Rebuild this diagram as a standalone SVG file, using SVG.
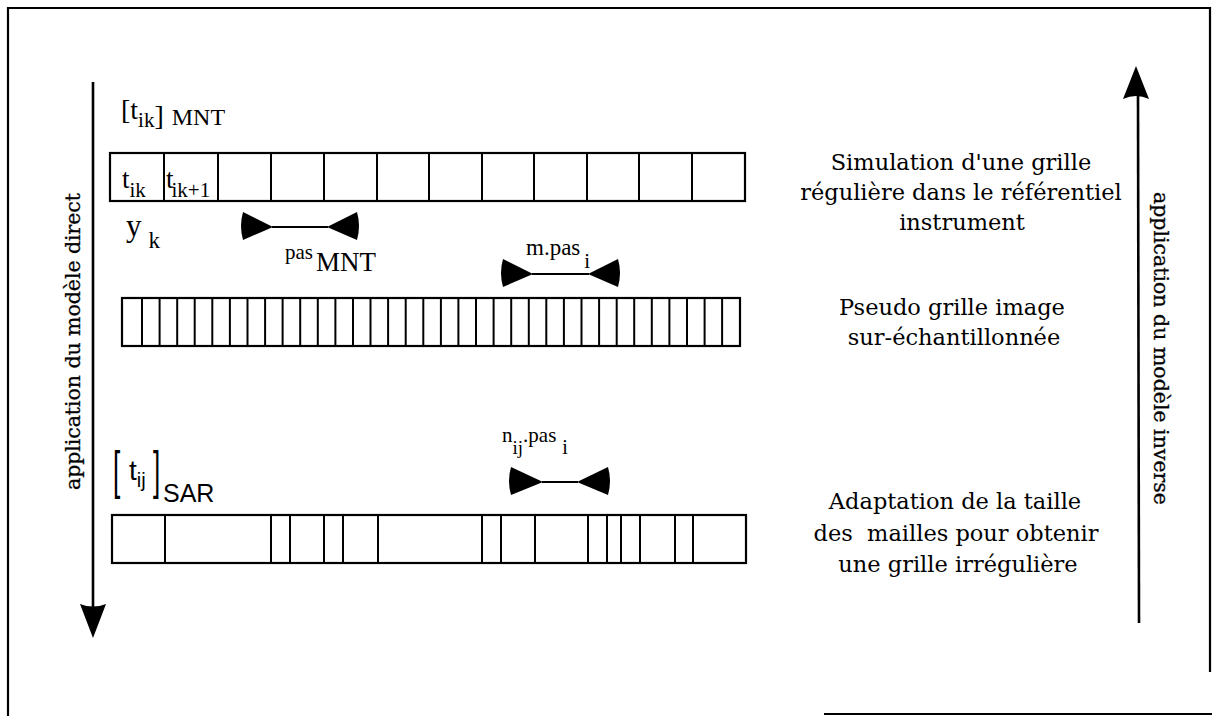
<svg xmlns="http://www.w3.org/2000/svg" width="1214" height="716" viewBox="0 0 1214 716">
  <style>
    .serif { font-family: "Liberation Serif", "DejaVu Serif", serif; fill: #000; }
    .label { font-family: "DejaVu Serif", "Liberation Serif", serif; font-size: 22.5px; fill: #000; }
    .sans { font-family: "Liberation Sans", Arial, sans-serif; fill: #000; }
    .grid { fill: #fff; stroke: #000; stroke-width: 2.2; }
    .div { stroke: #000; stroke-width: 2; }
    .frame { fill: none; stroke: #000; stroke-width: 2.2; }
    .axis { stroke: #000; stroke-width: 2.6; fill: none; }
    .head { fill: #000; stroke: none; }
    .rot { font-family: "DejaVu Serif", "Liberation Serif", serif; font-size: 20.5px; fill: #000; stroke: #000; stroke-width: 0.3; }
  </style>

  <rect width="1214" height="716" fill="#fff"/>

  <!-- page frame -->
  <g id="frame">
    <path class="frame" d="M 8 716 L 8 8 L 1210 8 L 1210 672"/>
    <line class="frame" x1="824" y1="714" x2="1212" y2="714"/>
  </g>

  <!-- direct / inverse model axes -->
  <g id="connectors">
    <line class="axis" x1="93" y1="82" x2="93" y2="610"/>
    <path class="head" d="M 80 604 Q 93 609 106 604 L 93 638 Z"/>
    <line class="axis" x1="1138" y1="96" x2="1139" y2="623"/>
    <path class="head" d="M 1123 99 Q 1136 93 1149 99 L 1136 66 Z"/>
    <text class="rot" transform="translate(80,490) rotate(-90)" textLength="297" lengthAdjust="spacing">application du modèle direct</text>
    <text class="rot" transform="translate(1154,192) rotate(90)" textLength="313" lengthAdjust="spacing">application du modèle inverse</text>
  </g>

  <!-- regular grid in the instrument frame -->
  <g id="grid-mnt">
    <text class="serif" x="121" y="119"><tspan font-size="28">[t</tspan><tspan font-size="21" dy="8">ik</tspan><tspan font-size="28" dy="-2">]</tspan><tspan font-size="24" dx="8">MNT</tspan></text>
    <rect class="grid" x="110" y="153" width="635" height="48"/>
    <g class="div">
      <line x1="164" y1="153" x2="164" y2="201"/>
      <line x1="218" y1="153" x2="218" y2="201"/>
      <line x1="271" y1="153" x2="271" y2="201"/>
      <line x1="324" y1="153" x2="324" y2="201"/>
      <line x1="377" y1="153" x2="377" y2="201"/>
      <line x1="429" y1="153" x2="429" y2="201"/>
      <line x1="482" y1="153" x2="482" y2="201"/>
      <line x1="534" y1="153" x2="534" y2="201"/>
      <line x1="587" y1="153" x2="587" y2="201"/>
      <line x1="639" y1="153" x2="639" y2="201"/>
      <line x1="692" y1="153" x2="692" y2="201"/>
    </g>
    <text class="serif" x="122" y="188"><tspan font-size="27">t</tspan><tspan font-size="21" dy="9">ik</tspan></text>
    <text class="serif" x="166" y="188"><tspan font-size="27">t</tspan><tspan font-size="21" dy="9" dx="-2">ik+1</tspan></text>
    <text class="serif" x="126" y="236"><tspan font-size="31">y</tspan><tspan font-size="23" dx="7" dy="12">k</tspan></text>
  </g>

  <!-- MNT step -->
  <g id="step-mnt">
    <path class="head" d="M 243 212 Q 239 226 243 240 L 273 227 Z"/>
    <path class="head" d="M 357 212 Q 361 226 357 240 L 327 227 Z"/>
    <line class="div" x1="272" y1="227" x2="328" y2="227"/>
    <text class="serif" x="285" y="259"><tspan font-size="21">pas</tspan><tspan font-size="27" dx="3" dy="12">MNT</tspan></text>
  </g>

  <!-- oversampled pseudo image grid -->
  <g id="grid-pseudo">
    <rect class="grid" x="122" y="298" width="618" height="48"/>
    <g class="div" id="pseudo-dividers">
      <line x1="142" y1="298" x2="142" y2="346"/>
      <line x1="159.6" y1="298" x2="159.6" y2="346"/>
      <line x1="177.2" y1="298" x2="177.2" y2="346"/>
      <line x1="194.7" y1="298" x2="194.7" y2="346"/>
      <line x1="212.3" y1="298" x2="212.3" y2="346"/>
      <line x1="229.9" y1="298" x2="229.9" y2="346"/>
      <line x1="247.5" y1="298" x2="247.5" y2="346"/>
      <line x1="265.1" y1="298" x2="265.1" y2="346"/>
      <line x1="282.6" y1="298" x2="282.6" y2="346"/>
      <line x1="300.2" y1="298" x2="300.2" y2="346"/>
      <line x1="317.8" y1="298" x2="317.8" y2="346"/>
      <line x1="335.4" y1="298" x2="335.4" y2="346"/>
      <line x1="353" y1="298" x2="353" y2="346"/>
      <line x1="370.5" y1="298" x2="370.5" y2="346"/>
      <line x1="388.1" y1="298" x2="388.1" y2="346"/>
      <line x1="405.7" y1="298" x2="405.7" y2="346"/>
      <line x1="423.3" y1="298" x2="423.3" y2="346"/>
      <line x1="440.9" y1="298" x2="440.9" y2="346"/>
      <line x1="458.4" y1="298" x2="458.4" y2="346"/>
      <line x1="476" y1="298" x2="476" y2="346"/>
      <line x1="493.6" y1="298" x2="493.6" y2="346"/>
      <line x1="511.2" y1="298" x2="511.2" y2="346"/>
      <line x1="528.8" y1="298" x2="528.8" y2="346"/>
      <line x1="546.3" y1="298" x2="546.3" y2="346"/>
      <line x1="563.9" y1="298" x2="563.9" y2="346"/>
      <line x1="581.5" y1="298" x2="581.5" y2="346"/>
      <line x1="599.1" y1="298" x2="599.1" y2="346"/>
      <line x1="616.7" y1="298" x2="616.7" y2="346"/>
      <line x1="634.2" y1="298" x2="634.2" y2="346"/>
      <line x1="651.8" y1="298" x2="651.8" y2="346"/>
      <line x1="669.4" y1="298" x2="669.4" y2="346"/>
      <line x1="687" y1="298" x2="687" y2="346"/>
      <line x1="704.6" y1="298" x2="704.6" y2="346"/>
      <line x1="722.1" y1="298" x2="722.1" y2="346"/>
    </g>
  </g>

  <!-- image step -->
  <g id="step-image">
    <path class="head" d="M 503 259 Q 499 273 503 287 L 533 274 Z"/>
    <path class="head" d="M 618 259 Q 622 273 618 287 L 588 274 Z"/>
    <line class="div" x1="532" y1="274" x2="589" y2="274"/>
    <text class="serif" x="526" y="255"><tspan font-size="23">m.pas</tspan><tspan font-size="21" dx="4" dy="13">i</tspan></text>
  </g>

  <!-- irregular SAR grid -->
  <g id="grid-sar">
    <text class="sans" transform="translate(113,488) scale(1,2)" font-size="26">[</text>
    <text class="sans" transform="translate(153,488) scale(1,2)" font-size="26">]</text>
    <text class="sans" x="129" y="480"><tspan font-size="28">t</tspan><tspan font-size="20" dy="7">ij</tspan></text>
    <text class="sans" x="163" y="502" font-size="25">SAR</text>
    <rect class="grid" x="112" y="515" width="634" height="48"/>
    <g class="div">
      <line x1="165" y1="515" x2="165" y2="563"/>
      <line x1="271" y1="515" x2="271" y2="563"/>
      <line x1="290" y1="515" x2="290" y2="563"/>
      <line x1="324" y1="515" x2="324" y2="563"/>
      <line x1="343" y1="515" x2="343" y2="563"/>
      <line x1="378" y1="515" x2="378" y2="563"/>
      <line x1="482" y1="515" x2="482" y2="563"/>
      <line x1="501" y1="515" x2="501" y2="563"/>
      <line x1="535" y1="515" x2="535" y2="563"/>
      <line x1="588" y1="515" x2="588" y2="563"/>
      <line x1="607" y1="515" x2="607" y2="563"/>
      <line x1="621" y1="515" x2="621" y2="563"/>
      <line x1="640" y1="515" x2="640" y2="563"/>
      <line x1="675" y1="515" x2="675" y2="563"/>
      <line x1="693" y1="515" x2="693" y2="563"/>
    </g>
  </g>

  <!-- SAR step -->
  <g id="step-sar">
    <path class="head" d="M 511 467 Q 507 481 511 495 L 543 482 Z"/>
    <path class="head" d="M 608 467 Q 612 481 608 495 L 577 482 Z"/>
    <line class="div" x1="542" y1="482" x2="578" y2="482"/>
    <text class="serif" x="502" y="442"><tspan font-size="21">n</tspan><tspan font-size="19" dy="12">ij</tspan><tspan font-size="21" dy="-12">.pas</tspan><tspan font-size="20" dx="6" dy="12">i</tspan></text>
  </g>

  <!-- step descriptions -->
  <g id="label-mnt" class="label" text-anchor="middle">
    <text x="961" y="170">Simulation d'une grille</text>
    <text x="961" y="200">régulière dans le référentiel</text>
    <text x="962" y="230">instrument</text>
  </g>
  <g id="label-pseudo" class="label" text-anchor="middle">
    <text x="952" y="315">Pseudo grille image</text>
    <text x="954" y="345">sur-échantillonnée</text>
  </g>
  <g id="label-sar" class="label" text-anchor="middle">
    <text x="955" y="509">Adaptation de la taille</text>
    <text x="956" y="541" xml:space="preserve">des  mailles pour obtenir</text>
    <text x="958" y="572">une grille irrégulière</text>
  </g>
</svg>
